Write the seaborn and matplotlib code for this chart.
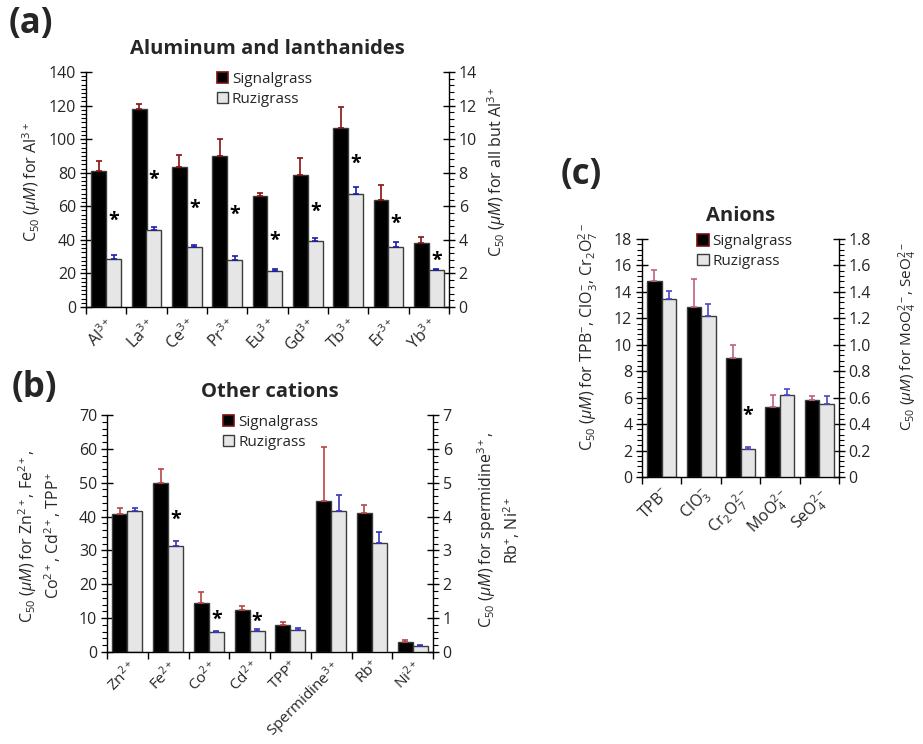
import numpy as np
import pandas as pd
import matplotlib
matplotlib.use("Agg")
import matplotlib.pyplot as plt
import seaborn as sns
from matplotlib.patches import Patch
from matplotlib.ticker import MultipleLocator, AutoMinorLocator, FuncFormatter

sns.set_theme(style="ticks")
plt.rcParams['font.family'] = ['Open Sans', 'DejaVu Sans']
plt.rcParams['mathtext.fontset'] = 'custom'
plt.rcParams['mathtext.rm'] = 'Open Sans'
plt.rcParams['mathtext.it'] = 'Open Sans:italic'
plt.rcParams['mathtext.bf'] = 'Open Sans:bold'

GRASSES = ["Signalgrass", "Ruzigrass"]

# ---------------- Panel (a): Aluminum and lanthanides ----------------
a_cats = ["Al$^{3+}$", "La$^{3+}$", "Ce$^{3+}$", "Pr$^{3+}$", "Eu$^{3+}$",
          "Gd$^{3+}$", "Tb$^{3+}$", "Er$^{3+}$", "Yb$^{3+}$"]
a_side = ["L", "R", "R", "R", "R", "R", "R", "R", "R"]
a_signal = [80.8, 11.8, 8.34, 8.98, 6.59, 7.88, 10.68, 6.37, 3.79]
a_signal_err = [6.0, 0.31, 0.71, 1.01, 0.22, 1.02, 1.25, 0.88, 0.38]
a_ruzi = [28.8, 4.61, 3.57, 2.82, 2.16, 3.95, 6.75, 3.57, 2.18]
a_ruzi_err = [2.4, 0.18, 0.14, 0.24, 0.10, 0.14, 0.42, 0.28, 0.10]
a_star = [52.6, 7.74, 6.02, 5.66, 4.11, 5.82, 8.68, 5.10, 2.92]

# ---------------- Panel (b): Other cations ----------------
b_cats = ["Zn$^{2+}$", "Fe$^{2+}$", "Co$^{2+}$", "Cd$^{2+}$", "TPP$^{+}$",
          "Spermidine$^{3+}$", "Rb$^{+}$", "Ni$^{2+}$"]
b_side = ["L", "L", "L", "L", "L", "R", "R", "R"]
b_signal = [40.9, 49.8, 14.5, 12.3, 7.9, 4.47, 4.12, 0.30]
b_signal_err = [1.6, 4.3, 3.2, 1.4, 1.1, 1.59, 0.23, 0.065]
b_ruzi = [41.7, 31.4, 5.9, 6.3, 6.5, 4.15, 3.22, 0.18]
b_ruzi_err = [0.7, 1.5, 0.2, 0.6, 0.6, 0.50, 0.32, 0.03]
b_star = [None, 39.9, 10.2, 9.6, None, None, None, None]

# ---------------- Panel (c): Anions ----------------
c_cats = ["TPB$^{-}$", "ClO$_3^{-}$", "Cr$_2$O$_7^{2-}$", "MoO$_4^{2-}$", "SeO$_4^{2-}$"]
c_side = ["L", "L", "L", "R", "R"]
c_signal = [14.85, 12.87, 9.01, 0.531, 0.580]
c_signal_err = [0.81, 2.10, 1.0, 0.091, 0.030]
c_ruzi = [13.43, 12.18, 2.12, 0.617, 0.551]
c_ruzi_err = [0.63, 0.94, 0.18, 0.045, 0.059]
c_star = [None, None, 4.81, None, None]

fig = plt.figure(figsize=(9.23, 7.44), dpi=100)

W, H = 923.0, 744.0


def rect(l, t, r, b):
    return [l / W, 1 - b / H, (r - l) / W, (b - t) / H]


def fmt_c(v, pos):
    return "0" if abs(v) < 1e-9 else f"{v:.1f}"


def draw_panel(rct, cats, side, sig, sig_err, ruz, ruz_err, stars, title,
               ylim_l, step_l, nminor_l, ylim_r, step_r, nminor_r,
               ecolors, legend_edge, legend_anchor, ylabel_l, ylabel_r,
               lab_l, lab_r, rfmt=None, rlab_size=11.5, xlab_size=11.5,
               xpad=6):
    n = len(cats)
    ax = fig.add_axes(rct)
    ax2 = ax.twinx()
    df = pd.DataFrame({
        "cat": cats * 2,
        "grass": ["Signalgrass"] * n + ["Ruzigrass"] * n,
        "value": sig + ruz,
        "err": sig_err + ruz_err,
        "side": side * 2,
    })
    errs = {"Signalgrass": sig_err, "Ruzigrass": ruz_err}
    for a, s in ((ax, "L"), (ax2, "R")):
        sub = df[df.side == s]
        sns.barplot(data=sub, x="cat", y="value", hue="grass", order=cats,
                    hue_order=GRASSES,
                    palette={"Signalgrass": "black", "Ruzigrass": "#e6e6e6"},
                    width=0.74, edgecolor="#3c3c3c", linewidth=1.0,
                    errorbar=None, legend=False, ax=a, zorder=2)
        for cont, g, ec in zip(a.containers, GRASSES, ecolors):
            xs, hs, es = [], [], []
            for p in cont.patches:
                xc = p.get_x() + p.get_width() / 2
                idx = int(round(xc))
                xs.append(xc)
                hs.append(p.get_height())
                es.append(errs[g][idx])
            a.errorbar(xs, hs, yerr=[np.zeros(len(es)), es], fmt="none",
                       ecolor=ec, elinewidth=1.2, capsize=2.2, capthick=1.2,
                       zorder=3)
        # stars above ruzigrass bars
        for i in range(n):
            if side[i] == s and stars[i] is not None:
                a.text(i + 0.185, stars[i], "*", ha="center",
                       va="center_baseline", fontsize=14, fontweight="bold",
                       color="black", zorder=4)

    ax.set_xlim(-0.5, n - 0.5)
    ax.set_ylim(*ylim_l)
    ax2.set_ylim(*ylim_r)
    ax.yaxis.set_major_locator(MultipleLocator(step_l))
    ax.yaxis.set_minor_locator(AutoMinorLocator(nminor_l))
    ax2.yaxis.set_major_locator(MultipleLocator(step_r))
    ax2.yaxis.set_minor_locator(AutoMinorLocator(nminor_r))
    if rfmt is not None:
        ax2.yaxis.set_major_formatter(FuncFormatter(rfmt))

    ax.set_xticks(range(n))
    ax.set_xticklabels(cats, rotation=45, ha="right", va="top",
                       rotation_mode="anchor", fontsize=xlab_size)
    ax.set_xticks(np.arange(n + 1) - 0.5, minor=True)
    ax.tick_params(axis="x", which="major", length=0, pad=xpad)
    ax.tick_params(axis="x", which="minor", length=5, width=1.0,
                   direction="out", color="black")
    ax.set_xlabel("")
    for a in (ax, ax2):
        a.tick_params(axis="y", which="major", direction="inout", length=8,
                      width=1.0, labelsize=11.5, color="black", pad=3)
        a.tick_params(axis="y", which="minor", direction="out", length=3.5,
                      width=0.8, color="black")
        a.grid(False)
    ax.spines["top"].set_visible(False)
    ax.spines["right"].set_visible(False)
    for sp in ("top", "left", "bottom"):
        ax2.spines[sp].set_visible(False)
    for sp in ("left", "bottom"):
        ax.spines[sp].set_color("black")
        ax.spines[sp].set_linewidth(1.0)
    ax2.spines["right"].set_color("black")
    ax2.spines["right"].set_linewidth(1.0)

    ax.set_ylabel(ylabel_l, fontsize=11.5, multialignment="center")
    ax2.set_ylabel(ylabel_r, fontsize=rlab_size, multialignment="center")
    ax.yaxis.set_label_coords(*lab_l)
    ax2.yaxis.set_label_coords(*lab_r)

    ax.set_title(title, fontsize=14.5, fontweight="bold", pad=13)

    handles = [Patch(facecolor="black", edgecolor=legend_edge, linewidth=1.2),
               Patch(facecolor="#e6e6e6", edgecolor="#3c3c3c", linewidth=1.0)]
    ax2.legend(handles, GRASSES, loc="upper left", bbox_to_anchor=legend_anchor,
               frameon=False, fontsize=11, handlelength=0.75, handleheight=0.75,
               handletextpad=0.25, labelspacing=0.3, borderaxespad=0,
               borderpad=0)
    return ax, ax2


mu = r"($\mathit{\mu M}$)"

draw_panel(rect(86, 72, 449, 307), a_cats, a_side, a_signal, a_signal_err,
           a_ruzi, a_ruzi_err, a_star, "Aluminum and lanthanides",
           (0, 140), 20, 8, (0, 14), 2, 5,
           ("#8a1010", "#1c1ca8"), "#7a1010", (0.36, 1.0),
           r"C$_{50}$ " + mu + r" for Al$^{3+}$",
           r"C$_{50}$ " + mu + r" for all but Al$^{3+}$",
           (-0.118, 0.53), (1.099, 0.575))

draw_panel(rect(107, 415, 433, 652), b_cats, b_side, b_signal, b_signal_err,
           b_ruzi, b_ruzi_err, b_star, "Other cations",
           (0, 70), 10, 5, (0, 7), 1, 5,
           ("#b84545", "#3434b8"), "#7a1010", (0.355, 1.0),
           r"C$_{50}$ " + mu + r" for Zn$^{2+}$, Fe$^{2+}$," + "\n"
           + r"Co$^{2+}$, Cd$^{2+}$, TPP$^{+}$",
           r"C$_{50}$ " + mu + r" for spermidine$^{3+}$," + "\n"
           + r"Rb$^{+}$, Ni$^{2+}$",
           (-0.135, 0.49), (1.129, 0.515), xlab_size=11, xpad=4)

draw_panel(rect(642, 239, 839, 477), c_cats, c_side, c_signal, c_signal_err,
           c_ruzi, c_ruzi_err, c_star, "Anions",
           (0, 18), 2, 5, (0, 1.8), 0.2, 5,
           ("#c0607c", "#4848c4"), "#7a1010", (0.28, 1.02),
           r"C$_{50}$ " + mu + r" for TPB$^{-}$, ClO$_3^{-}$, Cr$_2$O$_7^{2-}$",
           r"C$_{50}$ " + mu + r" for MoO$_4^{2-}$, SeO$_4^{2-}$",
           (-0.213, 0.59), (1.29, 0.59), rfmt=fmt_c, rlab_size=11)

fig.text(9 / W, 1 - 6 / H, "(a)", fontsize=25, fontweight="bold", va="top", ha="left")
fig.text(12 / W, 1 - 370 / H, "(b)", fontsize=25, fontweight="bold", va="top", ha="left")
fig.text(561 / W, 1 - 157 / H, "(c)", fontsize=25, fontweight="bold", va="top", ha="left")

fig.savefig("out.png", dpi=100)
